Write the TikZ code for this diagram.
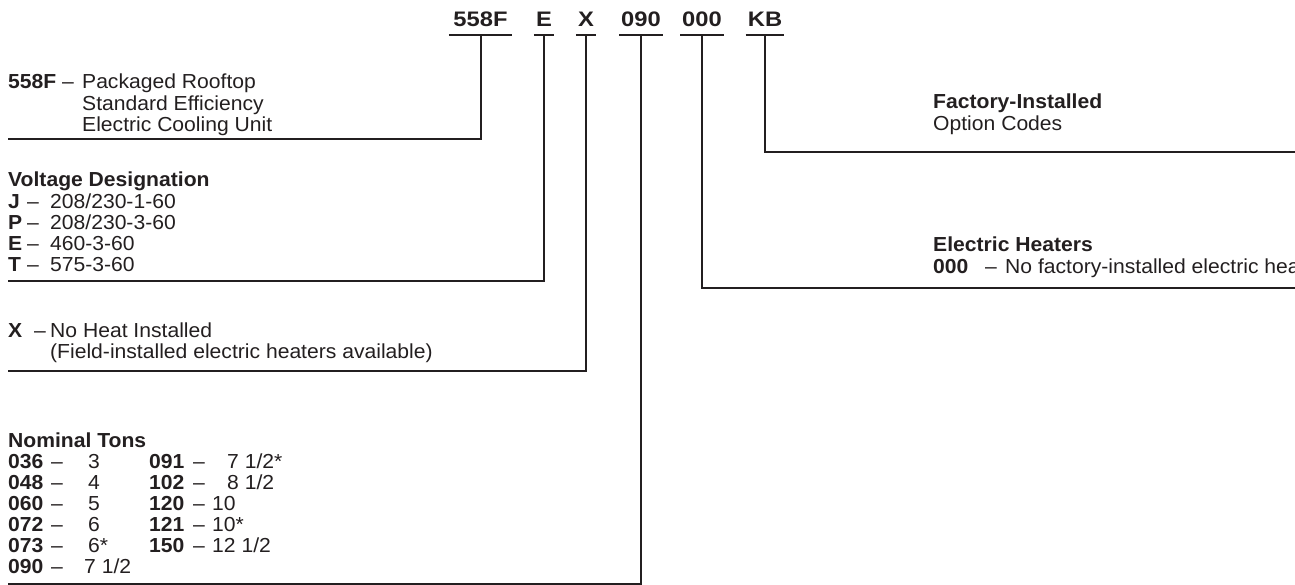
\documentclass[tikz,border=0pt]{standalone}
\usepackage{fontspec}
\setmainfont[FakeStretch=1.04]{Liberation Sans}
\newfontfamily\codefam[FakeStretch=1.13]{Liberation Sans}
\usepackage{array}
\usepackage{tikz}
\usetikzlibrary{positioning}
\definecolor{myink}{RGB}{35,31,32}
\newcommand{\bodyfont}{\fontsize{20.3}{21}\selectfont}
\newcommand{\codefont}{\codefam\fontsize{21}{24}\selectfont\bfseries}

\begin{document}
\begin{tikzpicture}[x=1pt, y=-1pt,
  rule/.style={draw=myink, line width=2pt},
  code/.style={font=\codefont, text=myink, anchor=base, inner xsep=2pt,
               inner ysep=8pt, text depth=0pt},
  desc/.style={font=\bodyfont, text=myink, anchor=base west, inner sep=0pt}]
  \path[use as bounding box, clip] (0,0) rectangle (1295,585);

  % model number
  \node[code, inner xsep=4.5pt] (cu) at (480.5,27) {558F};
  \node[code] (cv) at (544,27) {E};
  \node[code] (ch) at (586,27) {X};
  \node[code] (ct) at (641,27) {090};
  \node[code] (ce) at (702,27) {000};
  \node[code] (co) at (765,27) {KB};
  \foreach \c in {cu,cv,ch,ct,ce,co}
    \draw[rule] (\c.south west) -- (\c.south east);

  % left side
  \node[desc] (tu) at (8,89) {\begin{tabular}[t]{@{}p{74pt}@{}l@{}}
      \textbf{558F} – & Packaged Rooftop\\
      & Standard Efficiency\\
      & Electric Cooling Unit
    \end{tabular}};
  \node[desc] (tv) at (8,187) {\begin{tabular}[t]{@{}p{19pt}@{}p{23pt}@{}l@{}}
      \multicolumn{3}{@{}l@{}}{\textbf{Voltage Designation}}\\
      \textbf{J} & – & 208/230-1-60\\
      \textbf{P} & – & 208/230-3-60\\
      \textbf{E} & – & 460-3-60\\
      \textbf{T} & – & 575-3-60
    \end{tabular}};
  \node[desc] (th) at (8,337) {\begin{tabular}[t]{@{}p{26pt}@{}p{16pt}@{}l@{}}
      \textbf{X} & – & No Heat Installed\\
      & & (Field-installed electric heaters available)
    \end{tabular}};
  \node[desc] (tt) at (8,447) {\begin{tabular}[t]{@{}p{43pt}@{}p{37pt}@{}p{61pt}@{}p{44pt}@{}p{19pt}@{}l@{}}
      \multicolumn{6}{@{}l@{}}{\textbf{Nominal Tons}}\\
      \textbf{036} & – & 3 & \textbf{091} & – & \hspace{15pt}7 1/2*\\
      \textbf{048} & – & 4 & \textbf{102} & – & \hspace{15pt}8 1/2\\
      \textbf{060} & – & 5 & \textbf{120} & – & 10\\
      \textbf{072} & – & 6 & \textbf{121} & – & 10*\\
      \textbf{073} & – & 6* & \textbf{150} & – & 12 1/2\\
      \textbf{090} & – & \hspace{-4pt}7 1/2 & & &
    \end{tabular}};

  % right side
  \node[desc] (to) at (933,109) {\begin{tabular}[t]{@{}l@{}}
      \textbf{Factory-Installed}\\
      Option Codes
    \end{tabular}};
  \node[desc] (te) at (933,252) {\begin{tabular}[t]{@{}p{52pt}@{}p{20pt}@{}l@{}}
      \multicolumn{3}{@{}l@{}}{\textbf{Electric Heaters}}\\
      \textbf{000} & – & No factory-installed electric heat
    \end{tabular}};

  % leader lines
  \coordinate (eu) at (8,139);
  \coordinate (ev) at (8,281);
  \coordinate (eh) at (8,371);
  \coordinate (et) at (8,584);
  \coordinate (ee) at (1300,288);
  \coordinate (eo) at (1300,152);
  \draw[rule] (cu.south) |- (eu);
  \draw[rule] (cv.south) |- (ev);
  \draw[rule] (ch.south) |- (eh);
  \draw[rule] (ct.south) |- (et);
  \draw[rule] (ce.south) |- (ee);
  \draw[rule] (co.south) |- (eo);
\end{tikzpicture}
\end{document}
